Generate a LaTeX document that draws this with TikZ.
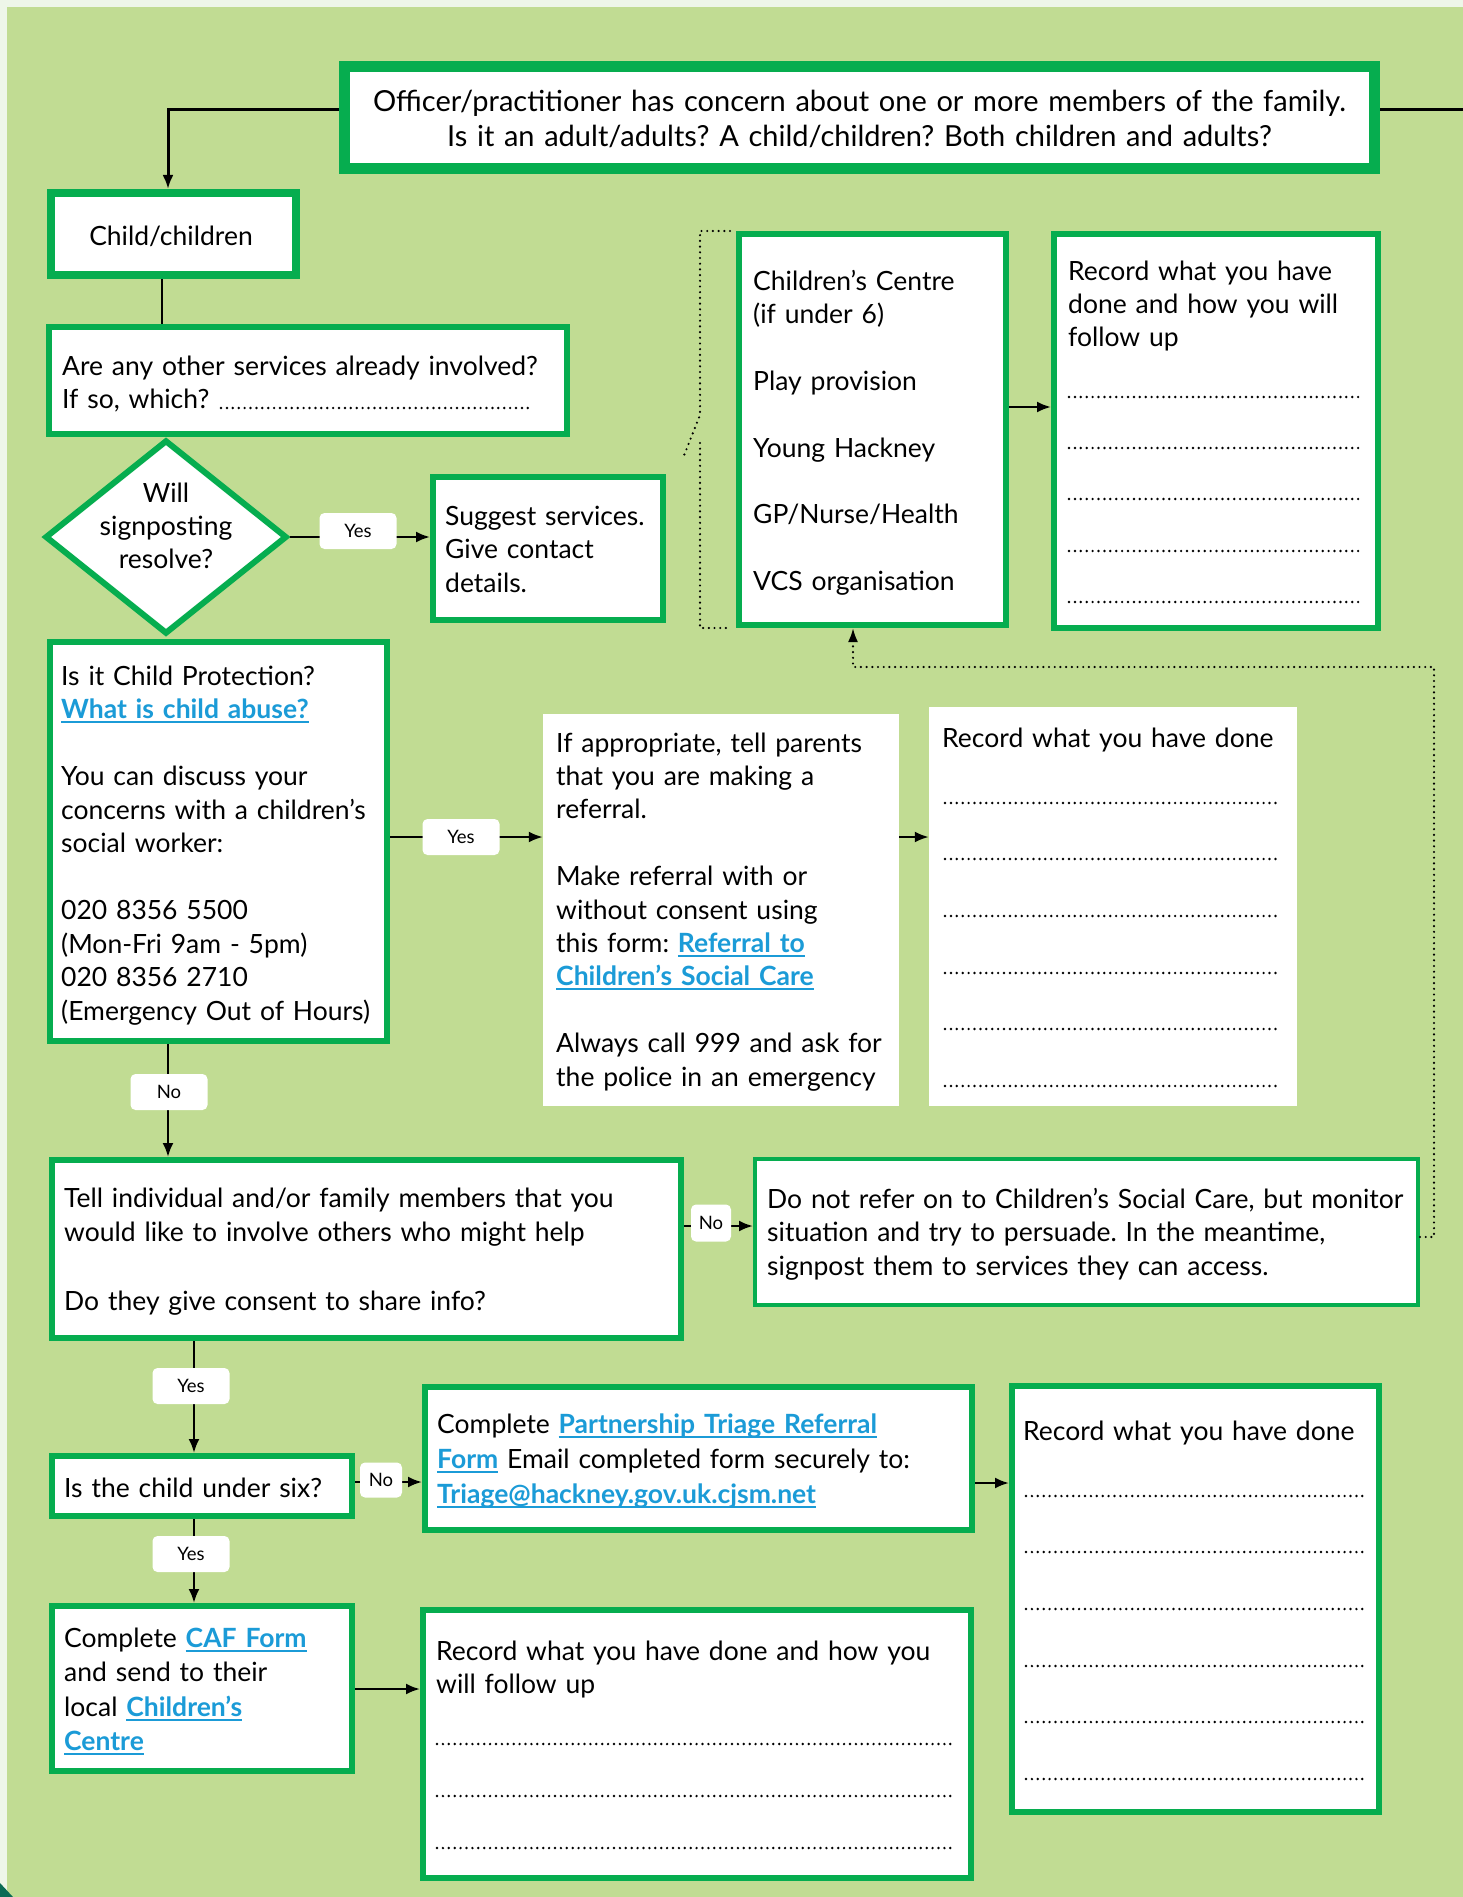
\documentclass[tikz,border=0pt]{standalone}
\usepackage{fontspec}
\setmainfont{Lato}
\usetikzlibrary{arrows.meta,shapes.geometric}
\definecolor{bg}{HTML}{C1DC93}
\definecolor{marginc}{HTML}{EEF6E9}
\definecolor{gborder}{HTML}{06AD4F}
\definecolor{linkblue}{HTML}{1B9BD7}
\definecolor{cornerc}{HTML}{0B6B55}
\newcommand\lnk[1]{\leavevmode\begingroup\sbox0{\color{linkblue}\bfseries #1}\rlap{\textcolor{linkblue}{\rule[-4.5pt]{\wd0}{1.9pt}}}\usebox0\endgroup}
\frenchspacing
\begin{document}
\begin{tikzpicture}[x=1pt,y=-1pt,
  box/.style={draw=gborder, fill=white, line width=6pt, inner sep=0pt},
  plainbox/.style={fill=white, draw=none, inner sep=0pt},
  txt/.style={anchor=base west, inner sep=0pt, align=left, font=\fontsize{26.5}{33.4}\selectfont},
  ctxt/.style={anchor=base, inner sep=0pt, align=center, font=\fontsize{26.5}{33.4}\selectfont},
  lbl/.style={fill=white, rounded corners=5pt, minimum width=77pt, minimum height=36pt, inner sep=0pt, font=\fontsize{18.5}{20}\selectfont},
  conn/.style={line width=2.4pt, -{Latex[length=14pt,width=11pt]}},
  plainline/.style={line width=2.4pt},
  dotrule/.style={line width=2.7pt, dash pattern=on 0pt off 5.9pt, line cap=round},
  dotconn/.style={line width=2.4pt, dash pattern=on 0pt off 5.7pt, line cap=round, -{Latex[length=14pt,width=10pt]}},
  dotplain/.style={line width=2.4pt, dash pattern=on 0pt off 5.7pt, line cap=round}
]
\useasboundingbox (0,0) rectangle (1463,1897);
\fill[marginc] (0,0) rectangle (1463,1897);
\fill[bg] (7,7) rectangle (1463,1897);
\fill[cornerc] (0,1883) -- (13,1897) -- (0,1897) -- cycle;

% boxes
\node[box, line width=11pt, minimum width=1030pt, minimum height=102pt] (top) at (859.5,117.5) {};
\node[box, line width=8pt, minimum width=245pt, minimum height=82pt] (child) at (173.5,234) {};
\node[box, minimum width=518pt, minimum height=107pt] (anyq) at (308,380.5) {};
\node[box, diamond, minimum width=242pt, minimum height=194pt] (diam) at (166,537) {};
\node[box, minimum width=230pt, minimum height=143pt] (suggest) at (548,548.5) {};
\node[box, minimum width=267pt, minimum height=391pt] (services) at (872.5,429.5) {};
\node[box, minimum width=324pt, minimum height=394pt] (rec1) at (1216,431) {};
\node[box, minimum width=337pt, minimum height=399pt] (cp) at (218.5,841.5) {};
\node[plainbox, minimum width=356pt, minimum height=392pt] (ifapp) at (721,910) {};
\node[plainbox, minimum width=368pt, minimum height=399pt] (rec2) at (1113,906.5) {};
\node[box, minimum width=629pt, minimum height=178pt] (tell) at (366.5,1249) {};
\node[box, line width=4pt, minimum width=663pt, minimum height=146pt] (donot) at (1086.5,1232) {};
\node[box, minimum width=300pt, minimum height=60pt] (under6) at (202,1486) {};
\node[box, minimum width=547pt, minimum height=143pt] (partner) at (698.5,1458.5) {};
\node[box, minimum width=367pt, minimum height=426pt] (rec3) at (1195.5,1599) {};
\node[box, minimum width=300pt, minimum height=165pt] (caf) at (202,1688.5) {};
\node[box, minimum width=548pt, minimum height=268pt] (rec4) at (697,1744) {};

% texts
\node[ctxt, font=\fontsize{29}{35}\selectfont, text width=1020pt] (toptext) at (859.5,112)
  {Officer/practitioner has concern about one or more members of the family.\\Is it an adult/adults? A child/children? Both children and adults?};
\node[ctxt] (childtext) at (171,245) {Child/children};
\node[txt, text width=505pt] (anyqtext) at (62,375) {Are any other services already involved?\\If so, which?};
\draw[dotrule] (221,408) -- (528,408);
\node[ctxt, text width=200pt, font=\fontsize{26.5}{33}\selectfont] (diamtext) at (166,502) {Will\\signposting\\resolve?};
\node[txt, text width=220pt, font=\fontsize{26.5}{33.5}\selectfont] (suggesttext) at (445,525) {Suggest services.\\Give contact\\details.};
\node[txt, text width=252pt] (servicestext) at (753,290)
  {Children’s Centre\\(if under 6)\\[33.4pt]Play provision\\[33.4pt]Young Hackney\\[33.4pt]GP/Nurse/Health\\[33.4pt]VCS organisation};
\node[txt, text width=310pt] (rec1text) at (1068,280) {Record what you have\\done and how you will\\follow up};
\foreach \yy in {397,448,499,551,602} \draw[dotrule] (1069,\yy) -- (1360,\yy);
\node[txt, text width=328pt, font=\fontsize{26.5}{33.5}\selectfont] (cptext) at (61,685)
  {Is it Child Protection?\\\lnk{What is child abuse?}\\[33.5pt]You can discuss your\\concerns with a children’s\\social worker:\\[33.5pt]020 8356 5500\\(Mon-Fri 9am - 5pm)\\020 8356 2710\\(Emergency Out of Hours)};
\node[txt, text width=340pt] (ifapptext) at (556,752)
  {If appropriate, tell parents\\that you are making a\\referral.\\[33.4pt]Make referral with or\\without consent using\\this form: \lnk{Referral to}\\\lnk{Children’s Social Care}\\[33.4pt]Always call 999 and ask for\\the police in an emergency};
\node[txt, text width=350pt] (rec2text) at (942,747) {Record what you have done};
\foreach \yy in {803,859,916,973,1029,1086} \draw[dotrule] (945,\yy) -- (1279,\yy);
\node[txt, text width=615pt, font=\fontsize{26.5}{34.5}\selectfont] (telltext) at (64,1207)
  {Tell individual and/or family members that you\\would like to involve others who might help\\[34.5pt]Do they give consent to share info?};
\node[txt, text width=655pt, font=\fontsize{26.5}{33.5}\selectfont] (donottext) at (767,1208)
  {Do not refer on to Children’s Social Care, but monitor\\situation and try to persuade. In the meantime,\\signpost them to services they can access.};
\node[txt, text width=285pt] (under6text) at (64,1497) {Is the child under six?};
\node[txt, text width=535pt, font=\fontsize{26.5}{35}\selectfont] (partnertext) at (437,1433)
  {Complete \lnk{Partnership Triage Referral}\\\lnk{Form} Email completed form securely to:\\\lnk{Triage@hackney.gov.uk.cjsm.net}};
\node[txt, text width=350pt] (rec3text) at (1023,1440) {Record what you have done};
\foreach \yy in {1496,1552,1609,1666,1722,1779} \draw[dotrule] (1026,\yy) -- (1363,\yy);
\node[txt, text width=290pt, font=\fontsize{26.5}{34.5}\selectfont] (caftext) at (64,1647)
  {Complete \lnk{CAF Form}\\and send to their\\local \lnk{Children’s}\\\lnk{Centre}};
\node[txt, text width=530pt, font=\fontsize{26.5}{33.5}\selectfont] (rec4text) at (436,1660)
  {Record what you have done and how you\\will follow up};
\foreach \yy in {1744,1796,1848} \draw[dotrule] (437,\yy) -- (953,\yy);

% bracket
\draw[dotplain] (730,231) -- (700,231) -- (700,415) -- (683,458);
\draw[dotplain] (700,443) -- (700,628) -- (730,628);

% connectors
\coordinate (tl) at (168,110);
\coordinate (tr) at (1463,110);
\draw[conn, line width=3pt] (top.west |- tl) -- (tl) -- (child.north -| tl);
\draw[plainline, line width=3pt] (top.east |- tr) -- (tr);
\coordinate (c1) at (162,300);
\draw[plainline] (child.south -| c1) -- (anyq.north -| c1);
\draw[conn] (diam.east) -- (suggest.west |- diam.east);
\node[lbl] (yes1) at (358,531) {Yes};
\coordinate (r1) at (1030,407);
\draw[conn] (services.east |- r1) -- (rec1.west |- r1);
\coordinate (r2) at (500,837);
\draw[conn] (cp.east |- r2) -- (ifapp.west |- r2);
\node[lbl] (yes2) at (461,837) {Yes};
\draw[conn] (ifapp.east |- r2) -- (rec2.west |- r2);
\coordinate (c2) at (168,1100);
\draw[conn] (cp.south -| c2) -- (tell.north -| c2);
\node[lbl] (no1) at (169,1092) {No};
\coordinate (r3) at (700,1226);
\draw[conn] (tell.east |- r3) -- (donot.west |- r3);
\node[lbl, minimum width=40pt, minimum height=37pt] (no2) at (711,1223) {No};
\coordinate (d1) at (1434,1237);
\coordinate (d2) at (1434,667);
\coordinate (d3) at (853,667);
\draw[dotconn] (donot.east |- d1) -- (d1) -- (d2) -- (d3) -- (services.south -| d3);
\coordinate (c3) at (194,1400);
\draw[conn] (tell.south -| c3) -- (under6.north -| c3);
\node[lbl] (yes3) at (191,1386) {Yes};
\coordinate (r4) at (390,1482);
\draw[conn] (under6.east |- r4) -- (partner.west |- r4);
\node[lbl, minimum width=42pt, minimum height=35pt] (no3) at (381,1480) {No};
\coordinate (r5) at (990,1483);
\draw[conn] (partner.east |- r5) -- (rec3.west |- r5);
\draw[conn] (under6.south -| c3) -- (caf.north -| c3);
\node[lbl] (yes4) at (191,1554) {Yes};
\coordinate (r6) at (390,1689);
\draw[conn] (caf.east |- r6) -- (rec4.west |- r6);
\end{tikzpicture}
\end{document}
